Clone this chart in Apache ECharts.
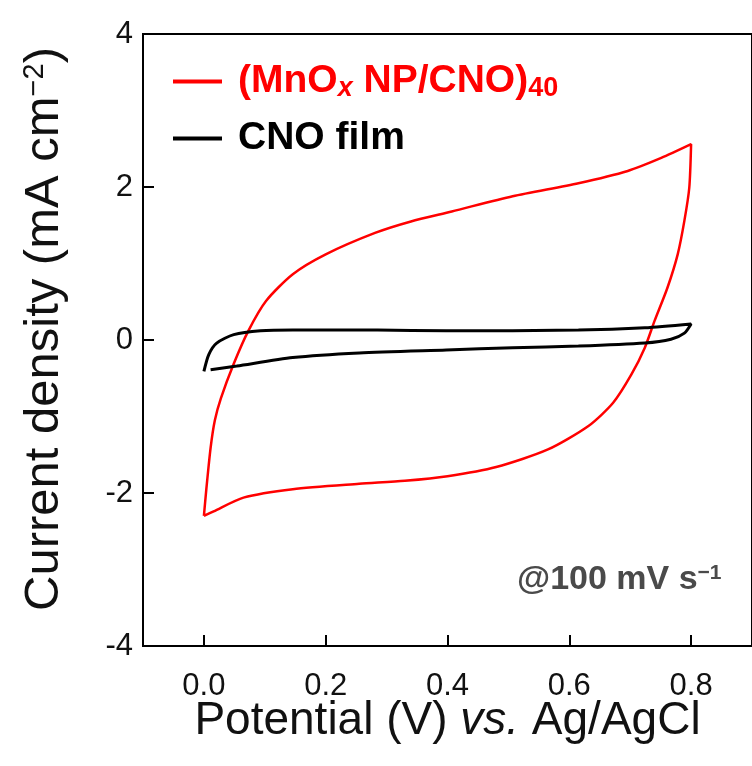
<!DOCTYPE html>
<html>
<head>
<meta charset="utf-8">
<script src="https://cdn.jsdelivr.net/npm/echarts@6/dist/echarts.min.js"></script>
<style>
html, body { margin: 0; padding: 0; background: #fff; }
#chart { width: 752px; height: 766px; }
</style>
</head>
<body>
<div id="chart"></div>
<script>
// CV loops: potential (V) and current density (mA cm-2)
var mnoxV = [0.000, 0.004, 0.011, 0.018, 0.028, 0.049, 0.073, 0.102, 0.146, 0.200, 0.281, 0.340, 0.407, 0.507, 0.615, 0.696, 0.751, 0.800,
             0.797, 0.789, 0.778, 0.761, 0.740, 0.724, 0.702, 0.672, 0.632, 0.565, 0.480, 0.400, 0.330, 0.255, 0.146, 0.065, 0.016, 0.000];
var mnoxI = [-2.30, -1.95, -1.41, -1.05, -0.76, -0.31, 0.12, 0.51, 0.86, 1.12, 1.40, 1.55, 1.68, 1.88, 2.05, 2.21, 2.38, 2.56,
             1.99, 1.56, 1.12, 0.68, 0.25, -0.10, -0.45, -0.82, -1.12, -1.43, -1.66, -1.78, -1.84, -1.88, -1.95, -2.06, -2.24, -2.30];

var cnoV = [0.000, 0.008, 0.021, 0.049, 0.093, 0.146, 0.285, 0.398, 0.615, 0.724, 0.800,
            0.789, 0.767, 0.724, 0.615, 0.507, 0.398, 0.255, 0.146, 0.054, 0.011];
var cnoI = [-0.41, -0.19, -0.04, 0.07, 0.12, 0.13, 0.13, 0.12, 0.13, 0.16, 0.21,
            0.09, 0.01, -0.04, -0.08, -0.10, -0.13, -0.17, -0.23, -0.34, -0.39];

var xTicks = [0, 0.2, 0.4, 0.6, 0.8];

function pairs(xs, ys) {
    return xs.map(function (x, i) { return [x, ys[i]]; });
}

var chart = echarts.init(document.getElementById("chart"));
var font = "Liberation Sans, Arial, sans-serif";

var option = {
    backgroundColor: "#fff",
    animation: false,
    textStyle: { fontFamily: font },
    grid: {
        left: 143,
        top: 34,
        width: 615,
        height: 612,
        show: true,
        borderColor: "#000",
        borderWidth: 2
    },
    legend: [
        {
            left: 168,
            top: 57,
            icon: "rect",
            itemWidth: 49,
            itemHeight: 4,
            data: ["mnox"],
            formatter: function () {
                return "{p|(MnO}{rx|x}{r| NP/CNO)}{rs|40}";
            },
            textStyle: {
                rich: {
                    p: { color: "#ff0000", fontSize: 39, fontWeight: "bold", fontFamily: font, padding: [0, 0, 0, 11] },
                    r: { color: "#ff0000", fontSize: 39, fontWeight: "bold", fontFamily: font },
                    rx: { color: "#ff0000", fontSize: 27, fontWeight: "bold", fontStyle: "italic", fontFamily: font, verticalAlign: "bottom", padding: [14, 0, 0, 0] },
                    rs: { color: "#ff0000", fontSize: 27, fontWeight: "bold", fontFamily: font, verticalAlign: "bottom", padding: [14, 0, 0, 0] }
                }
            }
        },
        {
            left: 168,
            top: 114,
            icon: "rect",
            itemWidth: 49,
            itemHeight: 4,
            data: ["cno"],
            formatter: function () {
                return "{k|CNO film}";
            },
            textStyle: {
                rich: {
                    k: { color: "#000", fontSize: 39, fontWeight: "bold", fontFamily: font, padding: [0, 0, 0, 11] }
                }
            }
        }
    ],
    xAxis: {
        type: "value",
        min: -0.1,
        max: 0.9,
        splitLine: { show: false },
        axisLine: { onZero: false, lineStyle: { color: "#000", width: 2 } },
        axisTick: { inside: true, length: 11, customValues: xTicks, lineStyle: { color: "#000", width: 2 } },
        axisLabel: {
            customValues: xTicks,
            margin: 25,
            fontSize: 31,
            color: "#111",
            formatter: function (v) { return v.toFixed(1); }
        },
        name: "{a|Potential (V) }{i|vs.}{a| Ag/AgCl}",
        nameLocation: "middle",
        nameGap: 52,
        nameMoveOverlap: false,
        nameTextStyle: {
            rich: {
                a: { fontSize: 46, color: "#111", fontFamily: font },
                i: { fontSize: 46, color: "#111", fontStyle: "italic", fontFamily: font }
            }
        }
    },
    yAxis: {
        type: "value",
        min: -4,
        max: 4,
        interval: 2,
        splitLine: { show: false },
        axisLine: { onZero: false, lineStyle: { color: "#000", width: 2 } },
        axisTick: { inside: true, length: 11, lineStyle: { color: "#000", width: 2 } },
        axisLabel: {
            margin: 10,
            fontSize: 31,
            color: "#111"
        },
        name: "{a|Current density (mA cm}{s|\u22122}{a|)}",
        nameLocation: "middle",
        nameGap: 74,
        nameMoveOverlap: false,
        nameTextStyle: {
            padding: [0, 0, 0, 22],
            rich: {
                a: { fontSize: 49, color: "#111", fontFamily: font },
                s: { fontSize: 29, color: "#111", fontFamily: font, verticalAlign: "top", padding: [0, 0, 17, 0] }
            }
        }
    },
    graphic: [
        {
            type: "text",
            left: 517,
            top: 563,
            style: {
                text: "{a|@100 mV s}{s|\u22121}",
                rich: {
                    a: { fontSize: 34, fontWeight: "bold", fill: "#4a4a4a", fontFamily: font },
                    s: { fontSize: 21, fontWeight: "bold", fill: "#4a4a4a", fontFamily: font, verticalAlign: "top", padding: [0, 0, 12, 0] }
                }
            }
        }
    ],
    series: [
        {
            name: "mnox",
            type: "line",
            showSymbol: false,
            smooth: 0.25,
            color: "#ff0000",
            lineStyle: { color: "#ff0000", width: 2.5 },
            data: pairs(mnoxV, mnoxI)
        },
        {
            name: "cno",
            type: "line",
            showSymbol: false,
            smooth: 0.25,
            color: "#000",
            lineStyle: { color: "#000", width: 3 },
            data: pairs(cnoV, cnoI)
        }
    ]
};

chart.setOption(option);

window.onresize = function () {
    chart.resize();
};
</script>
</body>
</html>
